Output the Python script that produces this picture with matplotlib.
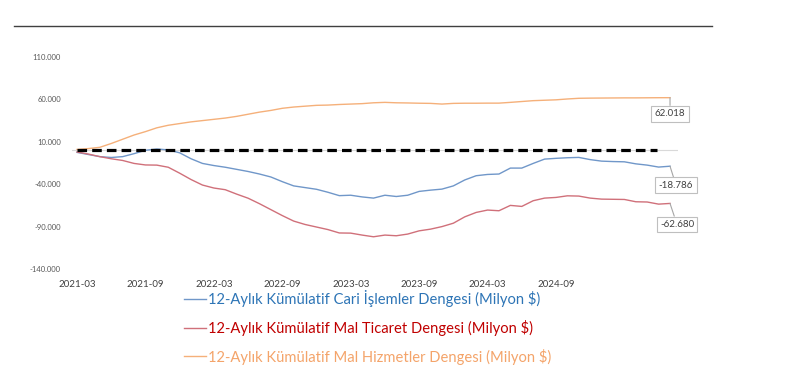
import matplotlib
matplotlib.use("Agg")
import matplotlib.pyplot as plt
from matplotlib.lines import Line2D
import numpy as np

months = ["2021-03","2021-04","2021-05","2021-06","2021-07","2021-08","2021-09","2021-10","2021-11","2021-12",
          "2022-01","2022-02","2022-03","2022-04","2022-05","2022-06","2022-07","2022-08","2022-09","2022-10",
          "2022-11","2022-12","2023-01","2023-02","2023-03","2023-04","2023-05","2023-06","2023-07","2023-08",
          "2023-09","2023-10","2023-11","2023-12","2024-01","2024-02","2024-03","2024-04","2024-05","2024-06",
          "2024-07","2024-08","2024-09","2024-10","2024-11","2024-12","2025-01","2025-02","2025-03","2025-04",
          "2025-05","2025-06","2025-07"]

cari = [-2.5, -5, -7.5, -8.5, -7.5, -4, 0, 1.5, 0.5, -3,
        -10, -15.5, -18, -20, -22.5, -25, -28, -31.5, -37, -42,
        -44, -46, -49.5, -53.5, -53, -55, -56.4, -53, -54.5, -53,
        -48.5, -47, -45.8, -42, -35, -30, -28.5, -28, -21, -21,
        -15.5, -10.4, -9.5, -8.8, -8.4, -11, -12.8, -13.3, -13.6, -16,
        -17.5, -19.8, -18.786]

mal = [-2, -4.5, -7.5, -10, -12, -15.5, -17.3, -17.5, -20, -27,
       -34.5, -41, -44.5, -46.5, -51.7, -56.5, -63, -70, -77, -83.5,
       -87.5, -90.5, -93.5, -97.5, -97.7, -100, -102, -100, -100.8, -98.8,
       -95, -93, -90, -86, -78.5, -73.3, -70.5, -71.3, -65, -66.2,
       -59.5, -56.4, -55.6, -53.7, -54, -56.4, -57.6, -57.8, -58, -60.7,
       -61, -63.5, -62.68]

hizmet = [1, 2, 3.5, 8, 13, 18, 22, 26.5, 29.5, 31.5,
          33.5, 35, 36.5, 38, 40, 42.5, 45, 47, 49.5, 51,
          52, 53, 53.3, 54, 54.5, 55, 56, 56.5, 56, 55.8,
          55.5, 55.3, 54.5, 55.3, 55.5, 55.5, 55.6, 55.6, 56.5, 57.5,
          58.5, 59, 59.5, 60.5, 61.3, 61.5, 61.6, 61.7, 61.8, 61.8,
          61.9, 62.0, 62.018]

labels = ["12-Aylık Kümülatif Cari İşlemler Dengesi (Milyon $)",
          "12-Aylık Kümülatif Mal Ticaret Dengesi (Milyon $)",
          "12-Aylık Kümülatif Mal Hizmetler Dengesi (Milyon $)"]
end_labels = ["-18.786", "-62.680", "62.018"]
yticks = [-140, -90, -40, 10, 60, 110]
ytick_labels = ["-140.000", "-90.000", "-40.000", "10.000", "60.000", "110.000"]
xtick_idx = list(range(0, 43, 6))

line_colors = ["#7097C9", "#D0707A", "#F5B07A"]
text_colors = ["#2E75B6", "#C00000", "#F4A46A"]

plt.rcParams['font.family'] = ['Lato', 'DejaVu Sans']

W, H = 790, 391
fig = plt.figure(figsize=(W/100, H/100), dpi=100)
ax_left, ax_right, ax_top, ax_bot = 72, 678, 57, 269
ax = fig.add_axes([ax_left/W, 1 - ax_bot/H, (ax_right-ax_left)/W, (ax_bot-ax_top)/H])

x = np.arange(len(months))
ax.set_xlim(-0.44, 52.70)
ax.set_ylim(-140, 110)

ax.axhline(0, color="#D9D9D9", lw=0.8, zorder=1)
ax.plot([x[0], x[-1] - 1.1], [0, 0], color="black", lw=2.3, dashes=(3.0, 1.6), zorder=4)

series = [cari, mal, hizmet]
for vals, c in zip(series, line_colors):
    ax.plot(x, vals, color=c, lw=1.0, zorder=3)

for vals, lab, (dx, dy) in zip(series, end_labels, [(6, -19), (7, -21), (0, -16)]):
    ax.annotate(lab, xy=(x[-1], vals[-1]), xycoords="data",
                xytext=(dx, dy), textcoords="offset pixels",
                ha="center", va="center", fontsize=7, color="#404040",
                bbox=dict(boxstyle="square,pad=0.35", fc="white", ec="#BFBFBF", lw=0.8),
                arrowprops=dict(arrowstyle="-", color="#A6A6A6", lw=0.8, shrinkA=0, shrinkB=0))

ax.set_yticks(yticks)
ax.set_yticklabels(ytick_labels, fontsize=5.5, color="#595959")
ax.set_xticks(xtick_idx)
ax.set_xticklabels([months[i] for i in xtick_idx], fontsize=7, color="#404040")
ax.tick_params(axis="both", length=0)
ax.tick_params(axis="y", pad=8)
ax.tick_params(axis="x", pad=8)
for s in ax.spines.values():
    s.set_visible(False)

# top rule
fig.add_artist(Line2D([14/W, 712/W], [1 - 26/H, 1 - 26/H], color="#404040", lw=1.0))

handles = [Line2D([], [], color=c, lw=1.0) for c in line_colors]
leg = fig.legend(handles, labels, loc="upper left", bbox_to_anchor=(184/W, 1 - 290/H),
                 frameon=False, fontsize=10.6, handlelength=1.5, handletextpad=0.15,
                 labelspacing=0.87, borderpad=0, borderaxespad=0)
for t, c in zip(leg.get_texts(), text_colors):
    t.set_color(c)

fig.savefig("out.png", dpi=100)
